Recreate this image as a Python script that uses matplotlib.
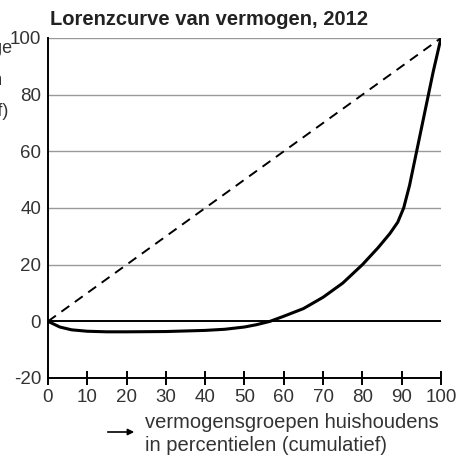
import matplotlib.pyplot as plt

plt.rcParams['font.family'] = ['Liberation Sans', 'DejaVu Sans']

# Lorenz curve of wealth (cumulative %)
pct_households = [0, 3, 6, 10, 15, 20, 30, 40, 45, 50, 53, 56.5, 60, 65, 70, 75,
                  80, 84, 87, 89, 90.5, 92, 93.5, 95, 96.5, 98, 99, 100]
pct_wealth = [0, -2.0, -3.0, -3.5, -3.7, -3.7, -3.6, -3.2, -2.8, -2.0, -1.2, 0, 1.8,
              4.5, 8.5, 13.5, 20, 26, 31, 35, 40, 48, 58, 68, 78, 88, 94, 100]
equality = [0, 100]

x_ticks = list(range(0, 101, 10))
y_ticks = [-20, 0, 20, 40, 60, 80, 100]

# y-axis title lines, mostly cut off at the left edge in the original
ylabel_lines = ['percentage', 'vermogen', '(cumulatief)']

fig = plt.figure(figsize=(4.6, 4.57), dpi=100)
ax = fig.add_axes([48 / 460, 1 - 378 / 457, 393 / 460, 340 / 457])

for y in [20, 40, 60, 80, 100]:
    ax.plot([0, 100], [y, y], color='#9a9a9a', lw=1.0, zorder=1)
ax.plot([0, 100], [0, 0], color='black', lw=1.4, zorder=2)

ax.plot(equality, equality, color='black', lw=1.4, ls=(0, (5, 3.5)), zorder=3)
ax.plot(pct_households, pct_wealth, color='black', lw=2.2, zorder=4,
        solid_joinstyle='round')

ax.set_xlim(0, 100)
ax.set_ylim(-20, 100)
ax.set_xticks(x_ticks)
ax.set_yticks(y_ticks)
ax.set_xticklabels([str(v) for v in x_ticks], fontsize=13.5)
ax.set_yticklabels([str(v) for v in y_ticks], fontsize=13.5, color='#333333')
ax.tick_params(axis='x', direction='inout', length=10, width=1.4, pad=3,
               labelcolor='#333333')
ax.tick_params(axis='y', length=0, pad=5)
ax.spines['top'].set_visible(False)
ax.spines['right'].set_visible(False)
ax.spines['left'].set_linewidth(1.4)
ax.spines['bottom'].set_linewidth(1.4)
ax.spines['bottom'].set_capstyle('butt')

fig.text(50 / 460, 1 - 25 / 457, 'Lorenzcurve van vermogen, 2012',
         ha='left', va='baseline', fontsize=14.5, fontweight='bold',
         color='#222222')

for line, right, y in zip(ylabel_lines, [13, 3, 9], [53, 85, 116]):
    fig.text(right / 460, 1 - y / 457, line, ha='right', va='baseline',
             fontsize=13, color='#333333')

fig.text(145 / 460, 1 - 428 / 457, 'vermogensgroepen huishoudens',
         ha='left', va='baseline', fontsize=14.5, color='#333333')
fig.text(145 / 460, 1 - 451 / 457, 'in percentielen (cumulatief)',
         ha='left', va='baseline', fontsize=14.5, color='#333333')
ax.annotate('', xy=(137 / 460, 1 - 432 / 457), xytext=(105 / 460, 1 - 432 / 457),
            xycoords='figure fraction',
            arrowprops=dict(arrowstyle='-|>', color='black', lw=1.2,
                            mutation_scale=9))

fig.savefig('out.png', dpi=100)
